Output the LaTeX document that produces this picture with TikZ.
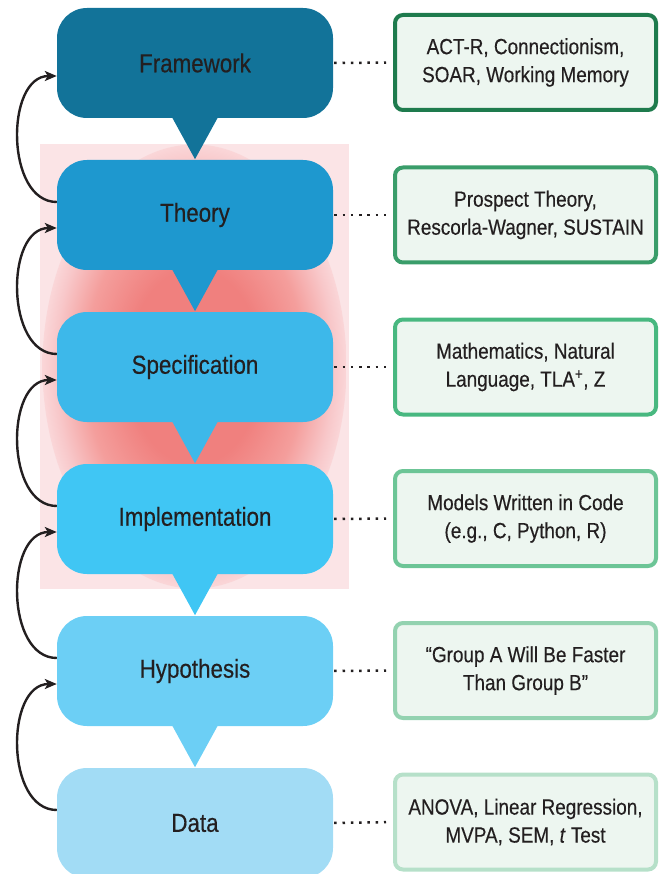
\documentclass[tikz,border=0pt]{standalone}
\usepackage{fontspec}
\setmainfont{Liberation Sans}[FakeStretch=0.86, FakeBold=0.35]
\usetikzlibrary{calc,arrows.meta}
\definecolor{cfw}{RGB}{18,115,153}
\definecolor{cth}{RGB}{30,152,207}
\definecolor{csp}{RGB}{61,184,234}
\definecolor{cim}{RGB}{64,198,244}
\definecolor{chy}{RGB}{108,207,245}
\definecolor{cda}{RGB}{162,220,245}
\definecolor{gfw}{RGB}{30,123,77}
\definecolor{gth}{RGB}{58,157,106}
\definecolor{gsp}{RGB}{72,184,128}
\definecolor{gim}{RGB}{108,197,150}
\definecolor{ghy}{RGB}{147,210,176}
\definecolor{gda}{RGB}{182,224,201}
\definecolor{mint}{RGB}{237,246,240}
\definecolor{txt}{RGB}{35,31,32}
\definecolor{pinkbg}{RGB}{251,228,230}
\definecolor{glowin}{RGB}{240,128,126}
\definecolor{glowmid}{RGB}{244,158,156}
\definecolor{glowpale}{RGB}{248,200,202}
\definecolor{glowout}{RGB}{250,214,216}
\pgfdeclareradialshading{pinkglow}{\pgfpoint{0bp}{0bp}}{color(0bp)=(glowin); color(11bp)=(glowin); color(18bp)=(glowmid); color(23bp)=(glowpale); color(25bp)=(glowout); color(50bp)=(glowout)}
\tikzset{
  bluebox/.style={rounded corners=30pt, minimum width=276pt, minimum height=110pt, inner sep=0pt, text=txt, font=\fontsize{26}{30}\selectfont},
  infobox/.style={rounded corners=8pt, line width=4pt, fill=mint, minimum width=261pt, minimum height=95pt, inner sep=0pt, align=center, text=txt, font=\fontsize{22}{28}\selectfont},
  dotline/.style={line width=2.5pt, dash pattern=on 2.5pt off 5.8pt, txt, shorten <=1pt, shorten >=7pt},
  backarrow/.style={line width=2.4pt, txt, -{Stealth[length=12pt,width=10pt,inset=3pt]}},
}
\begin{document}
\begin{tikzpicture}[x=1pt,y=-1pt]
\useasboundingbox (0,0) rectangle (664,874);
% highlight region
\fill[pinkbg] (40,144) rectangle (349,589);
\shade[shading=pinkglow] (194.5,366.5) ellipse [x radius=152pt, y radius=222pt];
% main boxes
\node[bluebox, fill=cfw] (fw) at (195,63) {Framework};
\node[bluebox, fill=cth] (th) at (195,215) {Theory};
\node[bluebox, fill=csp] (sp) at (195,367) {Specification};
\node[bluebox, fill=cim] (im) at (195,519) {Implementation};
\node[bluebox, fill=chy] (hy) at (195,671) {Hypothesis};
\node[bluebox, fill=cda] (da) at (195,823) {Data};
% pointers
\foreach \b/\c in {fw/cfw, th/cth, sp/csp, im/cim, hy/chy}{
  \fill[\c] ($(\b.south)+(-23,-1)$) -- ($(\b.south)+(23,-1)$) -- ($(\b.south)+(0,41)$) -- cycle;
}
% info boxes
\node[infobox, draw=gfw] (fwr) at (525.5,62.5) {ACT-R, Connectionism,\\SOAR, Working Memory};
\node[infobox, draw=gth] (thr) at (525.5,215) {Prospect Theory,\\Rescorla-Wagner, SUSTAIN};
\node[infobox, draw=gsp] (spr) at (525.5,367) {Mathematics, Natural\\Language, TLA\textsuperscript{+}, Z};
\node[infobox, draw=gim] (imr) at (525.5,518.5) {Models Written in Code\\(e.g., C, Python, R)};
\node[infobox, draw=ghy] (hyr) at (525.5,670.5) {“Group A Will Be Faster\\Than Group B”};
\node[infobox, draw=gda] (dar) at (525.5,822) {ANOVA, Linear Regression,\\MVPA, SEM, \textit{t} Test};
% dotted links
\foreach \a in {fw, th, sp, im, hy, da}{
  \draw[dotline] (\a.east) -- (\a r.west);
}
% feedback arrows
\foreach \lo/\up in {th/fw, sp/th, im/sp, hy/im, da/hy}{
  \draw[backarrow] ([yshift=13pt]\lo.west) to[out=180, in=180, looseness=1.05] ([yshift=-13pt]\up.west);
}
\end{tikzpicture}
\end{document}
